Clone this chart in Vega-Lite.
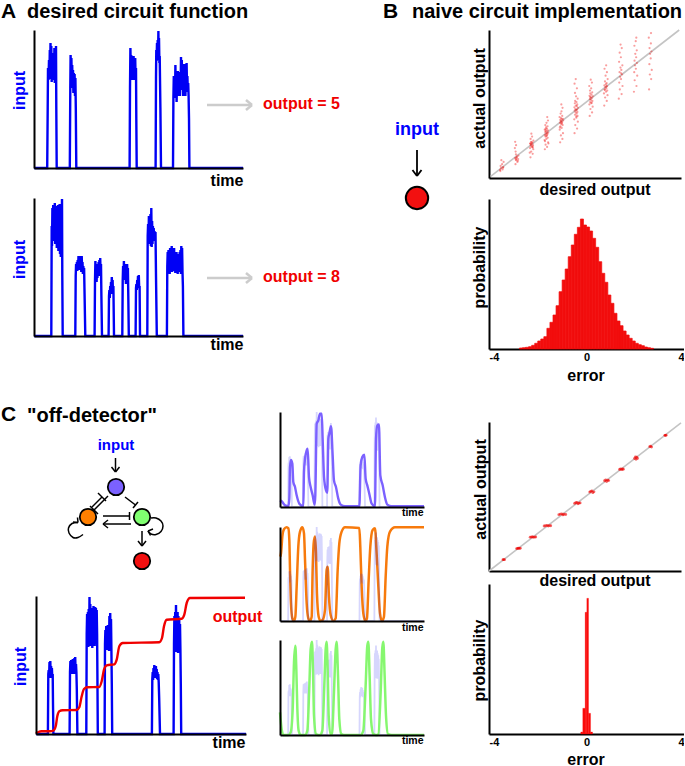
{"$schema":"https://vega.github.io/schema/vega-lite/v6.json","background":"white","padding":{"left":1,"top":1,"right":0,"bottom":0},
"config":{"view":{"stroke":null},"text":{"font":"Liberation Sans","fontWeight":"bold","align":"left","baseline":"middle"},"axis":{"domainColor":"#000","domainWidth":2,"ticks":false,"labels":false,"grid":false,"zindex":1,"titleFont":"Liberation Sans","titleFontWeight":"bold","titleFontSize":16,"titleBaseline":"middle","titleColor":"#000","labelFont":"Liberation Sans","labelFontWeight":"bold","labelFontSize":11,"labelColor":"#000"}},
"datasets":{
"inA1":[{"x":0,"y":0},{"x":13.2,"y":0},{"x":13.7,"y":60},{"x":14,"y":100},{"x":14.5,"y":88},{"x":15,"y":108},{"x":15.4,"y":90},{"x":15.8,"y":118},{"x":16.1,"y":92},{"x":16.5,"y":125},{"x":16.9,"y":89},{"x":17.3,"y":122},{"x":17.7,"y":86},{"x":18.1,"y":112},{"x":18.5,"y":90},{"x":18.9,"y":115},{"x":19.3,"y":88},{"x":19.7,"y":108},{"x":20,"y":92},{"x":20.4,"y":120},{"x":20.8,"y":85},{"x":21.2,"y":112},{"x":21.6,"y":95},{"x":22,"y":122},{"x":22.3,"y":60},{"x":22.7,"y":0},{"x":35.8,"y":0},{"x":36.3,"y":80},{"x":36.6,"y":113},{"x":37,"y":92},{"x":37.4,"y":110},{"x":37.8,"y":85},{"x":38.2,"y":103},{"x":38.6,"y":80},{"x":39,"y":98},{"x":39.4,"y":75},{"x":39.8,"y":95},{"x":40.2,"y":78},{"x":40.6,"y":94},{"x":41,"y":72},{"x":41.4,"y":90},{"x":41.8,"y":60},{"x":42.3,"y":0},{"x":95.6,"y":0},{"x":96,"y":80},{"x":96.4,"y":120},{"x":96.8,"y":95},{"x":97.2,"y":113},{"x":97.6,"y":92},{"x":98,"y":112},{"x":98.4,"y":88},{"x":98.8,"y":108},{"x":99.2,"y":90},{"x":99.6,"y":112},{"x":100,"y":88},{"x":100.4,"y":110},{"x":100.8,"y":92},{"x":101.2,"y":110},{"x":101.6,"y":88},{"x":102,"y":100},{"x":102.3,"y":50},{"x":102.7,"y":0},{"x":121.6,"y":0},{"x":122,"y":90},{"x":122.3,"y":118},{"x":122.6,"y":107},{"x":123,"y":125},{"x":123.3,"y":108},{"x":123.7,"y":128},{"x":124,"y":110},{"x":124.4,"y":137},{"x":124.7,"y":108},{"x":125,"y":130},{"x":125.4,"y":105},{"x":125.7,"y":112},{"x":126.4,"y":60},{"x":127,"y":0},{"x":139,"y":0},{"x":139.4,"y":70},{"x":139.8,"y":92},{"x":140.2,"y":80},{"x":140.6,"y":90},{"x":141,"y":70},{"x":141.4,"y":103},{"x":141.8,"y":72},{"x":142.2,"y":95},{"x":142.6,"y":66},{"x":143,"y":88},{"x":143.4,"y":72},{"x":143.8,"y":97},{"x":144.2,"y":76},{"x":144.6,"y":92},{"x":145,"y":74},{"x":145.4,"y":96},{"x":145.8,"y":72},{"x":146.2,"y":88},{"x":146.6,"y":78},{"x":147,"y":111},{"x":147.4,"y":80},{"x":147.8,"y":108},{"x":148.2,"y":82},{"x":148.6,"y":100},{"x":149,"y":72},{"x":149.4,"y":92},{"x":149.8,"y":76},{"x":150.2,"y":104},{"x":150.6,"y":80},{"x":151,"y":95},{"x":151.4,"y":72},{"x":151.8,"y":88},{"x":152.2,"y":78},{"x":152.6,"y":105},{"x":153,"y":80},{"x":153.4,"y":92},{"x":153.8,"y":76},{"x":154.2,"y":85},{"x":154.6,"y":72},{"x":155,"y":50},{"x":155.4,"y":0},{"x":209,"y":0}],
"inA2":[{"x":0,"y":0},{"x":17.3,"y":0},{"x":17.7,"y":110},{"x":18,"y":90},{"x":18.4,"y":128},{"x":18.8,"y":100},{"x":19.2,"y":131},{"x":19.6,"y":95},{"x":20,"y":120},{"x":20.4,"y":100},{"x":20.8,"y":133},{"x":21.2,"y":92},{"x":21.6,"y":125},{"x":22,"y":95},{"x":22.4,"y":130},{"x":22.8,"y":88},{"x":23.2,"y":128},{"x":23.6,"y":92},{"x":24,"y":131},{"x":24.4,"y":85},{"x":24.8,"y":128},{"x":25.2,"y":88},{"x":25.6,"y":132},{"x":26,"y":82},{"x":26.4,"y":128},{"x":26.8,"y":79},{"x":27.2,"y":130},{"x":27.6,"y":85},{"x":28,"y":137},{"x":28.3,"y":60},{"x":28.7,"y":0},{"x":41.3,"y":0},{"x":41.7,"y":60},{"x":42.1,"y":72},{"x":42.5,"y":66},{"x":42.9,"y":74},{"x":43.3,"y":65},{"x":43.7,"y":76},{"x":44.1,"y":68},{"x":44.5,"y":80},{"x":44.9,"y":66},{"x":45.3,"y":78},{"x":45.7,"y":70},{"x":46.1,"y":80},{"x":46.5,"y":68},{"x":46.9,"y":79},{"x":47.3,"y":64},{"x":47.7,"y":80},{"x":48.1,"y":68},{"x":48.5,"y":74},{"x":48.9,"y":62},{"x":49.3,"y":70},{"x":49.7,"y":64},{"x":50.1,"y":68},{"x":50.6,"y":40},{"x":51.3,"y":0},{"x":60.6,"y":0},{"x":61,"y":55},{"x":61.4,"y":75},{"x":61.8,"y":56},{"x":62.2,"y":72},{"x":62.6,"y":54},{"x":63,"y":70},{"x":63.4,"y":58},{"x":63.8,"y":68},{"x":64.2,"y":60},{"x":64.6,"y":74},{"x":65,"y":62},{"x":65.4,"y":76},{"x":65.8,"y":60},{"x":66.2,"y":78},{"x":66.6,"y":62},{"x":67,"y":72},{"x":67.4,"y":40},{"x":68,"y":0},{"x":74.6,"y":0},{"x":75,"y":40},{"x":75.4,"y":46},{"x":75.8,"y":38},{"x":76.2,"y":50},{"x":76.6,"y":42},{"x":77,"y":54},{"x":77.4,"y":44},{"x":77.8,"y":59},{"x":78.2,"y":46},{"x":78.6,"y":56},{"x":79,"y":42},{"x":79.4,"y":50},{"x":79.7,"y":25},{"x":80,"y":0},{"x":88.3,"y":0},{"x":88.7,"y":55},{"x":89.1,"y":70},{"x":89.5,"y":58},{"x":89.9,"y":75},{"x":90.3,"y":56},{"x":90.7,"y":72},{"x":91.1,"y":56},{"x":91.5,"y":70},{"x":91.9,"y":52},{"x":92.3,"y":66},{"x":92.7,"y":55},{"x":93.1,"y":72},{"x":93.5,"y":58},{"x":93.9,"y":68},{"x":94.3,"y":40},{"x":94.8,"y":0},{"x":101.6,"y":0},{"x":102,"y":48},{"x":102.4,"y":52},{"x":102.8,"y":46},{"x":103.2,"y":56},{"x":103.6,"y":50},{"x":104,"y":60},{"x":104.4,"y":50},{"x":104.8,"y":61},{"x":105.2,"y":48},{"x":105.6,"y":50},{"x":106,"y":0},{"x":113.3,"y":0},{"x":113.7,"y":100},{"x":114.1,"y":112},{"x":114.5,"y":95},{"x":114.9,"y":120},{"x":115.3,"y":98},{"x":115.7,"y":115},{"x":116.1,"y":92},{"x":116.5,"y":122},{"x":116.9,"y":90},{"x":117.3,"y":128},{"x":117.7,"y":89},{"x":118.1,"y":115},{"x":118.5,"y":92},{"x":118.9,"y":110},{"x":119.3,"y":96},{"x":119.7,"y":108},{"x":120.1,"y":97},{"x":120.5,"y":105},{"x":121,"y":95},{"x":121.5,"y":104},{"x":122,"y":60},{"x":122.8,"y":0},{"x":132.9,"y":0},{"x":133.3,"y":70},{"x":133.7,"y":84},{"x":134.1,"y":64},{"x":134.5,"y":86},{"x":134.9,"y":66},{"x":135.3,"y":84},{"x":135.7,"y":62},{"x":136.1,"y":88},{"x":136.5,"y":65},{"x":136.9,"y":85},{"x":137.3,"y":66},{"x":137.7,"y":90},{"x":138.1,"y":64},{"x":138.5,"y":86},{"x":138.9,"y":68},{"x":139.3,"y":86},{"x":139.7,"y":65},{"x":140.1,"y":88},{"x":140.5,"y":66},{"x":140.9,"y":84},{"x":141.3,"y":63},{"x":141.7,"y":82},{"x":142.1,"y":66},{"x":142.5,"y":84},{"x":142.9,"y":64},{"x":143.3,"y":80},{"x":143.7,"y":62},{"x":144.1,"y":82},{"x":144.5,"y":66},{"x":144.9,"y":80},{"x":145.3,"y":64},{"x":145.7,"y":84},{"x":146.1,"y":64},{"x":146.5,"y":86},{"x":146.9,"y":62},{"x":147.3,"y":90},{"x":147.7,"y":66},{"x":148.1,"y":88},{"x":148.5,"y":64},{"x":148.9,"y":50},{"x":149.4,"y":0},{"x":209,"y":0}],
"inC":[{"x":0,"y":0},{"x":11.9,"y":0},{"x":12.3,"y":60},{"x":12.7,"y":64},{"x":13.1,"y":57},{"x":13.5,"y":72},{"x":13.9,"y":56},{"x":14.3,"y":73},{"x":14.7,"y":57},{"x":15.1,"y":68},{"x":15.5,"y":58},{"x":15.9,"y":66},{"x":16.3,"y":56},{"x":16.7,"y":60},{"x":17,"y":30},{"x":17.4,"y":0},{"x":33.6,"y":0},{"x":34,"y":62},{"x":34.4,"y":73},{"x":34.8,"y":60},{"x":35.2,"y":74},{"x":35.6,"y":60},{"x":36,"y":74},{"x":36.4,"y":62},{"x":36.8,"y":75},{"x":37.2,"y":60},{"x":37.6,"y":74},{"x":38,"y":62},{"x":38.4,"y":76},{"x":38.8,"y":60},{"x":39.2,"y":77},{"x":39.6,"y":62},{"x":40,"y":70},{"x":40.4,"y":62},{"x":40.8,"y":45},{"x":41.4,"y":0},{"x":50.3,"y":0},{"x":50.7,"y":100},{"x":51.1,"y":120},{"x":51.5,"y":90},{"x":51.9,"y":122},{"x":52.3,"y":87},{"x":52.7,"y":125},{"x":53.1,"y":90},{"x":53.5,"y":137},{"x":53.9,"y":88},{"x":54.3,"y":130},{"x":54.7,"y":100},{"x":55.1,"y":118},{"x":55.5,"y":90},{"x":55.9,"y":125},{"x":56.3,"y":86},{"x":56.7,"y":126},{"x":57.1,"y":95},{"x":57.5,"y":128},{"x":57.9,"y":92},{"x":58.3,"y":125},{"x":58.7,"y":88},{"x":59.1,"y":127},{"x":59.5,"y":90},{"x":59.9,"y":126},{"x":60.3,"y":92},{"x":60.7,"y":124},{"x":61.1,"y":100},{"x":61.4,"y":60},{"x":61.8,"y":0},{"x":68.6,"y":0},{"x":69,"y":90},{"x":69.4,"y":104},{"x":69.8,"y":85},{"x":70.2,"y":108},{"x":70.6,"y":86},{"x":71,"y":108},{"x":71.4,"y":84},{"x":71.8,"y":109},{"x":72.2,"y":85},{"x":72.6,"y":104},{"x":73,"y":83},{"x":73.4,"y":118},{"x":73.8,"y":86},{"x":74.2,"y":121},{"x":74.6,"y":90},{"x":75,"y":115},{"x":75.4,"y":85},{"x":75.8,"y":50},{"x":76.2,"y":0},{"x":115.9,"y":0},{"x":116.3,"y":55},{"x":116.7,"y":62},{"x":117.1,"y":54},{"x":117.5,"y":66},{"x":117.9,"y":56},{"x":118.3,"y":69},{"x":118.7,"y":58},{"x":119.1,"y":68},{"x":119.5,"y":56},{"x":119.9,"y":68},{"x":120.3,"y":58},{"x":120.7,"y":65},{"x":121.1,"y":55},{"x":121.5,"y":62},{"x":121.9,"y":54},{"x":122.3,"y":60},{"x":122.7,"y":52},{"x":123.2,"y":35},{"x":124,"y":0},{"x":137.6,"y":0},{"x":138,"y":90},{"x":138.4,"y":118},{"x":138.8,"y":85},{"x":139.2,"y":122},{"x":139.6,"y":88},{"x":140,"y":129},{"x":140.4,"y":82},{"x":140.8,"y":120},{"x":141.2,"y":85},{"x":141.6,"y":122},{"x":142,"y":81},{"x":142.4,"y":118},{"x":142.8,"y":83},{"x":143.2,"y":115},{"x":143.6,"y":85},{"x":144,"y":110},{"x":144.4,"y":85},{"x":144.8,"y":50},{"x":145.2,"y":0},{"x":210,"y":0}],
"outC":[{"x":0,"y":0.3},{"x":2.3,"y":2},{"x":5.7,"y":2.7},{"x":14,"y":2.7},{"x":17.3,"y":3.3},{"x":19.7,"y":7.7},{"x":21.3,"y":17.7},{"x":23.3,"y":22.7},{"x":26.7,"y":23.7},{"x":40.7,"y":24},{"x":43.3,"y":26.7},{"x":45.7,"y":37.7},{"x":48,"y":45},{"x":51.3,"y":46.7},{"x":63.3,"y":47},{"x":65.7,"y":52.7},{"x":68,"y":64.3},{"x":70.7,"y":68.7},{"x":78.3,"y":69.7},{"x":80.7,"y":74.3},{"x":83.3,"y":87.7},{"x":86.7,"y":91},{"x":123.3,"y":91.7},{"x":126,"y":96},{"x":128,"y":107.7},{"x":130.7,"y":114.3},{"x":145.7,"y":115.3},{"x":148.3,"y":119.3},{"x":150.7,"y":131},{"x":154,"y":136},{"x":209,"y":136.3}],
"purple":[{"x":0,"y":9.6},{"x":2.4,"y":8.2},{"x":7.3,"y":2.4},{"x":12.2,"y":1},{"x":13.6,"y":12},{"x":14.6,"y":57.6},{"x":16,"y":68},{"x":18,"y":62.4},{"x":19.4,"y":36},{"x":21.9,"y":28.8},{"x":24.3,"y":16.8},{"x":28.2,"y":4.8},{"x":34,"y":1},{"x":35,"y":50.4},{"x":36.5,"y":69.6},{"x":38.9,"y":81.6},{"x":40.3,"y":84},{"x":42.3,"y":43.2},{"x":44.7,"y":28.8},{"x":47.6,"y":16.8},{"x":50.5,"y":3.4},{"x":51.5,"y":16.8},{"x":53.5,"y":120},{"x":55.9,"y":124.8},{"x":58.3,"y":134.4},{"x":60.8,"y":134.4},{"x":62.2,"y":98.4},{"x":64.2,"y":43.2},{"x":67.1,"y":24},{"x":69,"y":20.6},{"x":70.5,"y":98.4},{"x":71.9,"y":105.6},{"x":74.4,"y":116.6},{"x":76.8,"y":74.4},{"x":78.7,"y":38.4},{"x":81.6,"y":28.8},{"x":85,"y":12},{"x":88.5,"y":3.4},{"x":94.8,"y":1},{"x":115.7,"y":1},{"x":117.6,"y":60},{"x":120,"y":72},{"x":123,"y":75.4},{"x":124.9,"y":40.8},{"x":127.3,"y":31.2},{"x":130.2,"y":19.2},{"x":133.7,"y":4.8},{"x":138.5,"y":1},{"x":140,"y":98.4},{"x":141.9,"y":117.6},{"x":144.3,"y":119},{"x":146.3,"y":45.6},{"x":149.7,"y":31.2},{"x":153,"y":14.4},{"x":156.5,"y":3.4},{"x":162.8,"y":1},{"x":210,"y":1}],
"orange":[{"x":0.5,"y":93.8},{"x":1.5,"y":98.7},{"x":3.4,"y":123},{"x":5.8,"y":133.7},{"x":9.7,"y":136.6},{"x":12.2,"y":135},{"x":13.6,"y":118},{"x":14.6,"y":74.4},{"x":16,"y":25.8},{"x":18,"y":3.9},{"x":20.4,"y":0},{"x":22.4,"y":6.3},{"x":24.3,"y":50},{"x":26.7,"y":108.4},{"x":29.2,"y":130.2},{"x":32.6,"y":136.6},{"x":35,"y":127.8},{"x":36.5,"y":88.9},{"x":38.9,"y":25.8},{"x":41.3,"y":3.9},{"x":43.7,"y":0},{"x":46.2,"y":6.3},{"x":47.6,"y":74.4},{"x":49.1,"y":113.2},{"x":51,"y":123},{"x":52.5,"y":98.7},{"x":53.9,"y":40.3},{"x":56.4,"y":6.3},{"x":59.3,"y":0},{"x":62.2,"y":1.5},{"x":65.6,"y":16},{"x":68,"y":74.4},{"x":69.5,"y":79.2},{"x":71.4,"y":35.5},{"x":73.9,"y":8.7},{"x":77.8,"y":0},{"x":81.2,"y":3.9},{"x":84.1,"y":74.4},{"x":86.5,"y":113.2},{"x":89.9,"y":130.2},{"x":94.8,"y":136.6},{"x":115.7,"y":135.6},{"x":117.1,"y":108.4},{"x":119.1,"y":50},{"x":121.5,"y":11.2},{"x":124.4,"y":0},{"x":126.8,"y":3.9},{"x":129.3,"y":59.8},{"x":131.7,"y":108.4},{"x":135.1,"y":132.7},{"x":138.5,"y":135},{"x":140.9,"y":98.7},{"x":143.4,"y":50},{"x":145.8,"y":11.2},{"x":148.7,"y":0},{"x":151.6,"y":6.3},{"x":154.1,"y":64.6},{"x":156.5,"y":108.4},{"x":160.4,"y":130.2},{"x":167.7,"y":136.6},{"x":210,"y":136.6}],
"green":[{"x":0,"y":32.6},{"x":2.4,"y":8.6},{"x":4.9,"y":0},{"x":12.2,"y":0},{"x":15.6,"y":3.8},{"x":18.5,"y":37.4},{"x":20.4,"y":104.6},{"x":22.4,"y":128.6},{"x":23.8,"y":95},{"x":25.3,"y":37.4},{"x":27.2,"y":6.2},{"x":30.1,"y":0},{"x":36.5,"y":0},{"x":39.9,"y":6.2},{"x":42.8,"y":71},{"x":44.7,"y":123.8},{"x":46.7,"y":134.4},{"x":48.1,"y":95},{"x":49.6,"y":27.8},{"x":52.5,"y":1.4},{"x":55.9,"y":0},{"x":58.3,"y":0},{"x":61.7,"y":6.2},{"x":64.6,"y":71},{"x":66.6,"y":123.8},{"x":68,"y":134.4},{"x":69.5,"y":95},{"x":71,"y":27.8},{"x":73.9,"y":1.4},{"x":75.8,"y":1},{"x":78.7,"y":61.4},{"x":81.2,"y":123.8},{"x":82.6,"y":134.4},{"x":84.6,"y":85.4},{"x":86.5,"y":23},{"x":89.4,"y":1.4},{"x":93.3,"y":0},{"x":117.6,"y":0},{"x":121.5,"y":6.2},{"x":124.9,"y":71},{"x":127.3,"y":128.6},{"x":128.8,"y":134.4},{"x":130.7,"y":85.4},{"x":132.7,"y":23},{"x":136.1,"y":1.4},{"x":140,"y":0},{"x":143.4,"y":1},{"x":146.8,"y":61.4},{"x":149.2,"y":126.2},{"x":150.7,"y":134.4},{"x":152.6,"y":85.4},{"x":154.6,"y":27.8},{"x":157.5,"y":1.4},{"x":162.8,"y":0},{"x":210,"y":0}],
"scatterB":[{"x":0.9,"y":0.6},{"x":1.05,"y":0.75},{"x":0.95,"y":0.85},{"x":1.1,"y":0.95},{"x":0.92,"y":1.05},{"x":1.02,"y":1.2},{"x":1.12,"y":1.4},{"x":0.97,"y":1.55},{"x":1.08,"y":0.9},{"x":0.88,"y":0.7},
{"x":1.92,"y":1.2},{"x":2.05,"y":1.4},{"x":1.97,"y":1.55},{"x":2.1,"y":1.65},{"x":1.9,"y":1.75},{"x":2.02,"y":1.85},{"x":2.12,"y":1.95},{"x":1.95,"y":2.05},{"x":2.08,"y":1.5},{"x":1.98,"y":1.7},{"x":1.93,"y":2.3},{"x":1.88,"y":2.6},{"x":1.96,"y":2.85},{"x":1.9,"y":3.15},{"x":2,"y":1.8},{"x":1.94,"y":1.6},
{"x":2.93,"y":1.8},{"x":3.08,"y":2.1},{"x":2.98,"y":2.3},{"x":3.12,"y":2.5},{"x":2.9,"y":2.6},{"x":3.03,"y":2.7},{"x":2.95,"y":2.8},{"x":3.1,"y":2.85},{"x":3,"y":2.95},{"x":2.92,"y":3},{"x":3.06,"y":3.05},{"x":2.97,"y":3.15},{"x":3.13,"y":3.25},{"x":2.94,"y":3.4},{"x":3.04,"y":3.6},{"x":2.99,"y":3.85},{"x":2.88,"y":2.2},{"x":3.07,"y":2.75},{"x":2.96,"y":2.9},{"x":3.02,"y":3.1},{"x":3.09,"y":2.65},{"x":2.91,"y":3},
{"x":3.9,"y":2.5},{"x":4.05,"y":2.7},{"x":3.95,"y":2.9},{"x":4.12,"y":3.1},{"x":3.88,"y":3.3},{"x":4,"y":3.4},{"x":4.09,"y":3.5},{"x":3.94,"y":3.6},{"x":4.03,"y":3.7},{"x":3.9,"y":3.75},{"x":4.07,"y":3.8},{"x":3.97,"y":3.85},{"x":4.13,"y":3.95},{"x":3.92,"y":4},{"x":4.02,"y":4.05},{"x":3.96,"y":4.1},{"x":4.1,"y":4.15},{"x":3.89,"y":4.2},{"x":4.04,"y":4.3},{"x":3.98,"y":4.4},{"x":4.08,"y":4.5},{"x":3.93,"y":4.6},{"x":4.01,"y":4.8},{"x":4.11,"y":5},{"x":4.06,"y":5.3},{"x":3.91,"y":3.2},{"x":4,"y":3.65},{"x":4.05,"y":3.9},{"x":3.95,"y":4.25},{"x":4.14,"y":3},
{"x":4.93,"y":3.1},{"x":5.08,"y":3.4},{"x":4.98,"y":3.7},{"x":5.12,"y":3.9},{"x":4.9,"y":4.2},{"x":5.03,"y":4.35},{"x":4.95,"y":4.5},{"x":5.1,"y":4.6},{"x":5,"y":4.7},{"x":4.92,"y":4.8},{"x":5.06,"y":4.85},{"x":4.97,"y":4.9},{"x":5.13,"y":5},{"x":4.94,"y":5.05},{"x":5.04,"y":5.1},{"x":4.99,"y":5.2},{"x":4.89,"y":5.3},{"x":5.07,"y":5.4},{"x":4.96,"y":5.6},{"x":5.02,"y":5.8},{"x":5.09,"y":6.1},{"x":5.01,"y":6.4},{"x":4.91,"y":4.4},{"x":5.05,"y":4.75},{"x":5,"y":4.95},{"x":5.11,"y":5.15},
{"x":5.9,"y":3.9},{"x":6.07,"y":4.3},{"x":5.95,"y":4.6},{"x":6.12,"y":4.9},{"x":5.88,"y":5.1},{"x":6.02,"y":5.25},{"x":6.1,"y":5.4},{"x":5.93,"y":5.5},{"x":6.04,"y":5.6},{"x":5.97,"y":5.7},{"x":6.09,"y":5.75},{"x":5.91,"y":5.85},{"x":6.01,"y":5.9},{"x":5.96,"y":6},{"x":6.13,"y":6.1},{"x":5.89,"y":6.15},{"x":6.05,"y":6.25},{"x":5.98,"y":6.3},{"x":6.08,"y":6.4},{"x":5.92,"y":6.5},{"x":6.03,"y":6.6},{"x":5.94,"y":6.7},{"x":6.11,"y":6.9},{"x":6,"y":7.1},{"x":5.93,"y":7.4},{"x":6.06,"y":7.8},{"x":5.9,"y":8.2},{"x":5.98,"y":8.6},{"x":6.02,"y":5.35},{"x":6.06,"y":5.95},
{"x":6.92,"y":5.4},{"x":7.08,"y":5.7},{"x":6.97,"y":6},{"x":7.12,"y":6.2},{"x":6.9,"y":6.4},{"x":7.03,"y":6.5},{"x":6.95,"y":6.6},{"x":7.1,"y":6.7},{"x":7,"y":6.8},{"x":6.93,"y":6.85},{"x":7.06,"y":6.95},{"x":6.98,"y":7},{"x":7.13,"y":7.1},{"x":6.91,"y":7.15},{"x":7.04,"y":7.25},{"x":6.96,"y":7.35},{"x":7.09,"y":7.45},{"x":6.94,"y":7.6},{"x":7.02,"y":7.8},{"x":6.89,"y":8},{"x":7.07,"y":8.3},{"x":6.99,"y":8.55},{"x":7.05,"y":6.55},{"x":6.97,"y":7.05},
{"x":7.9,"y":6.3},{"x":8.07,"y":6.7},{"x":7.96,"y":7},{"x":8.12,"y":7.2},{"x":7.88,"y":7.35},{"x":8.02,"y":7.5},{"x":8.1,"y":7.6},{"x":7.93,"y":7.7},{"x":8.04,"y":7.8},{"x":7.97,"y":7.9},{"x":8.09,"y":8},{"x":7.91,"y":8.05},{"x":8.01,"y":8.15},{"x":8.06,"y":8.25},{"x":7.95,"y":8.4},{"x":8.13,"y":8.6},{"x":7.99,"y":8.9},{"x":8.08,"y":9.2},{"x":7.92,"y":9.5},{"x":8.03,"y":9.8},{"x":7.94,"y":7.65},{"x":8.05,"y":7.95},
{"x":8.88,"y":6.9},{"x":9.07,"y":7.3},{"x":8.95,"y":7.7},{"x":9.13,"y":8},{"x":8.91,"y":8.3},{"x":9.03,"y":8.6},{"x":8.97,"y":8.8},{"x":9.1,"y":9},{"x":8.93,"y":9.2},{"x":9.05,"y":9.4},{"x":8.99,"y":9.6},{"x":9.12,"y":9.8},{"x":8.9,"y":10.1},{"x":9.02,"y":10.5},{"x":8.94,"y":10.9},{"x":9.08,"y":11.3},{"x":9,"y":11.6},{"x":9.04,"y":9.1},
{"x":9.9,"y":7.5},{"x":10.07,"y":8},{"x":9.95,"y":8.5},{"x":10.12,"y":8.9},{"x":9.92,"y":9.2},{"x":10.03,"y":9.5},{"x":9.97,"y":9.8},{"x":10.1,"y":10},{"x":9.94,"y":10.2},{"x":10.05,"y":10.5},{"x":9.99,"y":10.8},{"x":10.09,"y":11.1},{"x":9.93,"y":11.5},{"x":10.02,"y":11.9},{"x":10.06,"y":12.2},
{"x":10.92,"y":7.7},{"x":11.06,"y":8.6},{"x":10.97,"y":9},{"x":11.1,"y":9.4},{"x":10.94,"y":9.9},{"x":11.03,"y":10.4},{"x":10.99,"y":10.8},{"x":11.08,"y":11},{"x":10.95,"y":11.3},{"x":11.04,"y":11.7},{"x":10.9,"y":12.2},{"x":11.05,"y":12.6}],
"scatterC":[{"x":0.95,"y":1},{"x":1,"y":1.01},{"x":1.06,"y":1},{"x":1.88,"y":1.98},{"x":1.95,"y":2},{"x":2,"y":2.02},{"x":2.06,"y":2},{"x":2.13,"y":2.01},{"x":2.8,"y":2.99},{"x":2.88,"y":3},{"x":2.96,"y":3.03},{"x":3.02,"y":2.98},{"x":3.1,"y":3},{"x":3.18,"y":3.01},{"x":3.75,"y":3.98},{"x":3.85,"y":4},{"x":3.95,"y":4.04},{"x":4.03,"y":3.97},{"x":4.1,"y":4.02},{"x":4.2,"y":4},{"x":4.75,"y":4.98},{"x":4.85,"y":5.03},{"x":4.95,"y":5.05},{"x":5.03,"y":4.96},{"x":5.1,"y":5.02},{"x":5.22,"y":5},{"x":5.82,"y":5.98},{"x":5.9,"y":6.04},{"x":5.98,"y":6.07},{"x":6.05,"y":5.95},{"x":6.12,"y":6},{"x":6.2,"y":6.02},{"x":6.85,"y":6.98},{"x":6.92,"y":7.05},{"x":7,"y":7.08},{"x":7.06,"y":6.93},{"x":7.14,"y":7},{"x":7.86,"y":7.98},{"x":7.94,"y":8.06},{"x":8,"y":7.92},{"x":8.08,"y":8.04},{"x":8.14,"y":8},{"x":8.88,"y":8.98},{"x":8.95,"y":9.04},{"x":9.02,"y":8.96},{"x":9.08,"y":9.02},{"x":9.14,"y":9},{"x":9.9,"y":9.96},{"x":9.96,"y":10.1},{"x":10,"y":9.88},{"x":10.05,"y":10.06},{"x":10.1,"y":9.96},{"x":10.93,"y":11},{"x":11,"y":11.04},{"x":11.06,"y":10.96},{"x":11.96,"y":12},{"x":12,"y":12},{"x":12.05,"y":12.01}],
"histB":[{"x":-2.75,"x2":-2.625,"y":1},{"x":-2.625,"x2":-2.5,"y":1.3},{"x":-2.5,"x2":-2.375,"y":1.7},{"x":-2.375,"x2":-2.25,"y":2.3},{"x":-2.25,"x2":-2.125,"y":3.7},{"x":-2.125,"x2":-2,"y":5.7},{"x":-2,"x2":-1.875,"y":8},{"x":-1.875,"x2":-1.75,"y":10},{"x":-1.75,"x2":-1.625,"y":12.3},{"x":-1.625,"x2":-1.5,"y":20.7},{"x":-1.5,"x2":-1.375,"y":26.7},{"x":-1.375,"x2":-1.25,"y":34},{"x":-1.25,"x2":-1.125,"y":43.3},{"x":-1.125,"x2":-1,"y":57.3},{"x":-1,"x2":-0.875,"y":69},{"x":-0.875,"x2":-0.75,"y":80},{"x":-0.75,"x2":-0.625,"y":92.3},{"x":-0.625,"x2":-0.5,"y":104},{"x":-0.5,"x2":-0.375,"y":114.7},{"x":-0.375,"x2":-0.25,"y":121.7},{"x":-0.25,"x2":-0.125,"y":130},{"x":-0.125,"x2":0,"y":124},{"x":0,"x2":0.125,"y":122},{"x":0.125,"x2":0.25,"y":118},{"x":0.25,"x2":0.375,"y":110.7},{"x":0.375,"x2":0.5,"y":101.7},{"x":0.5,"x2":0.625,"y":87.3},{"x":0.625,"x2":0.75,"y":75.7},{"x":0.75,"x2":0.875,"y":66.7},{"x":0.875,"x2":1,"y":54},{"x":1,"x2":1.125,"y":45.7},{"x":1.125,"x2":1.25,"y":35.7},{"x":1.25,"x2":1.375,"y":28},{"x":1.375,"x2":1.5,"y":23.3},{"x":1.5,"x2":1.625,"y":18},{"x":1.625,"x2":1.75,"y":14},{"x":1.75,"x2":1.875,"y":10.7},{"x":1.875,"x2":2,"y":8},{"x":2,"x2":2.125,"y":5.7},{"x":2.125,"x2":2.25,"y":4.3},{"x":2.25,"x2":2.375,"y":3.3},{"x":2.375,"x2":2.5,"y":2},{"x":2.5,"x2":2.625,"y":1.3},{"x":2.625,"x2":2.75,"y":0.7}],
"histC":[{"x":-0.234,"x2":-0.152,"y":2},{"x":-0.152,"x2":-0.055,"y":25.7},{"x":-0.055,"x2":0.014,"y":121.7},{"x":0.014,"x2":0.083,"y":135.7},{"x":0.083,"x2":0.166,"y":20.7},{"x":0.166,"x2":0.248,"y":2}]
},
"concat":[
{"width":246,"height":148,"encoding":{"x":{"field":"x","type":"quantitative","scale":{"domain":[0,209],"range":[0,209],"nice":false,"zero":false},"axis":{"title":"time","offset":-10,"zindex":2,"titleAlign":"right","titleX":209,"titleY":12}},"y":{"field":"y","type":"quantitative","scale":{"domain":[0,138],"range":[138,0],"nice":false,"zero":false},"axis":{"title":"input","zindex":2,"titleColor":"#0000ff","titleX":-15,"titleY":60}}},
"layer":[{"data":{"name":"inA1"},"mark":{"type":"line","color":"#0000f5","strokeWidth":2.4}},
{"data":{"values":[{"x":173,"y":63,"x2":218,"y2":63},{"x":212,"y":68,"x2":218,"y2":63},{"x":212,"y":58,"x2":218,"y2":63}]},"mark":{"type":"rule","color":"#cccccc","strokeWidth":2.5},"encoding":{"x2":{"field":"x2"},"y2":{"field":"y2"}}},
{"data":{"values":[{"x":229,"y":64,"label":"output = 5"}]},"mark":{"type":"text","fontSize":16,"color":"#f00000"},"encoding":{"text":{"field":"label"}}},
{"data":{"values":[{"x":-33,"y":156,"label":"A"}]},"mark":{"type":"text","fontSize":21,"color":"#000"},"encoding":{"text":{"field":"label"}}},
{"data":{"values":[{"x":-7,"y":156,"label":"desired circuit function"}]},"mark":{"type":"text","fontSize":20,"color":"#000"},"encoding":{"text":{"field":"label"}}}]},
{"width":209,"height":148,"encoding":{"x":{"field":"x","type":"quantitative","scale":{"domain":[280,489],"range":[0,209],"nice":false,"zero":false},"axis":null},"y":{"field":"y","type":"quantitative","scale":{"domain":[30,178],"range":[0,148],"nice":false,"zero":false},"axis":null}},
"layer":[{"data":{"values":[{"x":383,"y":12,"label":"B"}]},"mark":{"type":"text","fontSize":21,"color":"#000"},"encoding":{"text":{"field":"label"}}},
{"data":{"values":[{"x":412,"y":12,"label":"naive circuit implementation"}]},"mark":{"type":"text","fontSize":20,"color":"#000"},"encoding":{"text":{"field":"label"}}},
{"data":{"values":[{"x":417,"y":130,"label":"input"}]},"mark":{"type":"text","fontSize":18,"color":"#0000ff","align":"center"},"encoding":{"text":{"field":"label"}}},
{"data":{"values":[{"x":417,"y":150,"x2":417,"y2":176},{"x":412.5,"y":170,"x2":417,"y2":176},{"x":421.5,"y":170,"x2":417,"y2":176}]},"mark":{"type":"rule","color":"#000","strokeWidth":1.8},"encoding":{"x2":{"field":"x2"},"y2":{"field":"y2"}}},
{"data":{"values":[{"x":417,"y":198}]},"mark":{"type":"point","shape":"circle","filled":true,"size":500,"color":"#f21010","stroke":"#000","strokeWidth":2,"opacity":1}}]},
{"width":192,"height":148,"encoding":{"x":{"field":"x","type":"quantitative","scale":{"domain":[0.137,13.07],"range":[0,192],"nice":false,"zero":false},"axis":{"title":"desired output","titleX":105.5,"titleY":11}},"y":{"field":"y","type":"quantitative","scale":{"domain":[0,12.87],"range":[148,0],"nice":false,"zero":false},"axis":{"title":"actual output","titleX":-9.5,"titleY":68}}},
"layer":[{"data":{"values":[{"x":0.25,"y":0.15,"x2":12.95,"y2":12.87}]},"mark":{"type":"rule","color":"#c4c4c4","strokeWidth":1.6},"encoding":{"x2":{"field":"x2"},"y2":{"field":"y2"}}},
{"data":{"name":"scatterB"},"mark":{"type":"point","filled":true,"size":5,"color":"#f00000","opacity":0.38}}]},

{"width":246,"height":171,"encoding":{"x":{"field":"x","type":"quantitative","scale":{"domain":[0,209],"range":[0,209],"nice":false,"zero":false},"axis":{"title":"time","offset":-13,"zindex":2,"titleAlign":"right","titleX":209,"titleY":8}},"y":{"field":"y","type":"quantitative","scale":{"domain":[0,138],"range":[158,20],"nice":false,"zero":false},"axis":{"title":"input","zindex":2,"titleColor":"#0000ff","titleX":-15,"titleY":81}}},
"layer":[{"data":{"name":"inA2"},"mark":{"type":"line","color":"#0000f5","strokeWidth":2.4}},
{"data":{"values":[{"x":173,"y":58,"x2":218,"y2":58},{"x":212,"y":63,"x2":218,"y2":58},{"x":212,"y":53,"x2":218,"y2":58}]},"mark":{"type":"rule","color":"#cccccc","strokeWidth":2.5},"encoding":{"x2":{"field":"x2"},"y2":{"field":"y2"}}},
{"data":{"values":[{"x":229,"y":59,"label":"output = 8"}]},"mark":{"type":"text","fontSize":16,"color":"#f00000"},"encoding":{"text":{"field":"label"}}}]},
{"width":209,"height":171,"encoding":{"x":{"field":"x","type":"quantitative","scale":{"domain":[0,210],"range":[0,144],"nice":false,"zero":false},"axis":{"title":"time","offset":158,"zindex":2,"titleFontSize":10.5,"titleAlign":"right","titleX":143,"titleY":5}},"y":{"field":"y","type":"quantitative","scale":{"domain":[0,137],"range":[329,234],"nice":false,"zero":false},"axis":{"title":null,"zindex":2}}},
"layer":[{"data":{"name":"inC"},"mark":{"type":"line","color":"#0000f5","strokeWidth":1.8,"opacity":0.16}},
{"data":{"name":"purple"},"mark":{"type":"line","color":"#7b61ff","strokeWidth":2.4,"interpolate":"monotone"}}]},
{"width":192,"height":171,"data":{"name":"histB"},"mark":{"type":"rect","color":"#f20d0d","stroke":"#f20d0d","strokeWidth":0.7},"encoding":{"x":{"field":"x","type":"quantitative","scale":{"domain":[-4,4],"range":[0,195],"nice":false,"zero":false},"axis":{"title":"error","labels":true,"values":[-4,0,4],"labelExpr":"''+datum.value","labelPadding":2,"labelAngle":0,"titleX":96.5,"titleY":26}},"y":{"field":"y","type":"quantitative","scale":{"domain":[0,150],"range":[171,21],"nice":false,"zero":false},"axis":{"title":"probability","titleX":-9.5,"titleY":89}},"x2":{"field":"x2"},"y2":{"datum":0}}},

{"width":246,"height":222,"encoding":{"x":{"field":"x","type":"quantitative","scale":{"domain":[34,280],"range":[0,246],"nice":false,"zero":false},"axis":null},"y":{"field":"y","type":"quantitative","scale":{"domain":[349,571],"range":[0,222],"nice":false,"zero":false},"axis":null}},
"layer":[{"data":{"values":[{"x":1,"y":415,"label":"C"}]},"mark":{"type":"text","fontSize":21,"color":"#000"},"encoding":{"text":{"field":"label"}}},
{"data":{"values":[{"x":27,"y":416,"label":"\"off-detector\""}]},"mark":{"type":"text","fontSize":20,"color":"#000"},"encoding":{"text":{"field":"label"}}},
{"data":{"values":[{"x":116,"y":445,"label":"input"}]},"mark":{"type":"text","fontSize":15,"color":"#0000ff","align":"center"},"encoding":{"text":{"field":"label"}}},
{"data":{"values":[{"x":115.5,"y":458,"x2":115.5,"y2":472},{"x":111.5,"y":467,"x2":115.5,"y2":472},{"x":119.5,"y":467,"x2":115.5,"y2":472},{"x":92,"y":507,"x2":102,"y2":497},{"x":98,"y":493,"x2":106,"y2":501},{"x":108,"y":496,"x2":94,"y2":510},{"x":90,"y":506,"x2":98,"y2":514},{"x":125,"y":497,"x2":135.5,"y2":505},{"x":133,"y":508,"x2":138,"y2":502},{"x":103,"y":516,"x2":129.5,"y2":516},{"x":129.5,"y":512,"x2":129.5,"y2":520},{"x":131,"y":524,"x2":103,"y2":524},{"x":108,"y":520,"x2":103,"y2":524},{"x":108,"y":528,"x2":103,"y2":524},{"x":142,"y":531,"x2":142,"y2":546},{"x":138,"y":541,"x2":142,"y2":546},{"x":146,"y":541,"x2":142,"y2":546},{"x":77.5,"y":517.5,"x2":78,"y2":522.5},{"x":73,"y":522,"x2":78,"y2":522.5},{"x":148,"y":531,"x2":153,"y2":529},{"x":148,"y":531,"x2":150.5,"y2":535.5}]},"mark":{"type":"rule","color":"#000","strokeWidth":1.5},"encoding":{"x2":{"field":"x2"},"y2":{"field":"y2"}}},
{"data":{"values":[{"n":"a","i":1,"x":78,"y":522.5},{"n":"a","i":2,"x":72,"y":523.5},{"n":"a","i":3,"x":68.5,"y":528},{"n":"a","i":4,"x":69,"y":533},{"n":"a","i":5,"x":73,"y":537.5},{"n":"a","i":6,"x":78,"y":537.5},{"n":"a","i":7,"x":83,"y":534.5},{"n":"b","i":1,"x":151,"y":518},{"n":"b","i":2,"x":156,"y":518},{"n":"b","i":3,"x":161,"y":521},{"n":"b","i":4,"x":163,"y":526},{"n":"b","i":5,"x":161,"y":531.5},{"n":"b","i":6,"x":156,"y":534.5},{"n":"b","i":7,"x":151,"y":534},{"n":"b","i":8,"x":148,"y":531}]},"mark":{"type":"line","color":"#000","strokeWidth":1.5,"interpolate":"cardinal"},"encoding":{"detail":{"field":"n"},"order":{"field":"i"}}},
{"data":{"values":[{"x":116,"y":487,"node":"top"},{"x":88,"y":517,"node":"left"},{"x":142,"y":517,"node":"right"},{"x":142,"y":561,"node":"out"}]},"mark":{"type":"point","shape":"circle","filled":true,"size":270,"stroke":"#000","strokeWidth":1.8,"opacity":1},"encoding":{"color":{"field":"node","type":"nominal","legend":null,"scale":{"domain":["top","left","right","out"],"range":["#7b61ff","#ff7f00","#80ff70","#f21010"]}}}}]},
{"width":209,"height":222,"encoding":{"x":{"field":"x","type":"quantitative","scale":{"domain":[0,210],"range":[0,144],"nice":false,"zero":false},"axis":{"title":"time","offset":50,"zindex":2,"titleFontSize":10.5,"titleAlign":"right","titleX":143,"titleY":6}},"y":{"field":"y","type":"quantitative","scale":{"domain":[0,137],"range":[272,178],"nice":false,"zero":false},"axis":{"title":null,"zindex":2}}},
"layer":[{"data":{"name":"orange"},"mark":{"type":"line","color":"#f77a0c","strokeWidth":2.5,"interpolate":"monotone"}},
{"data":{"name":"inC"},"mark":{"type":"line","color":"#0000f5","strokeWidth":1.8,"opacity":0.16}}]},
{"width":192,"height":222,"encoding":{"x":{"field":"x","type":"quantitative","scale":{"domain":[0,13.06],"range":[0,192],"nice":false,"zero":false},"axis":{"title":"desired output","titleX":105.5,"titleY":9}},"y":{"field":"y","type":"quantitative","scale":{"domain":[0,13.18],"range":[222,73],"nice":false,"zero":false},"axis":{"title":"actual output","titleX":-9,"titleY":140}}},
"layer":[{"data":{"values":[{"x":0,"y":0,"x2":13.06,"y2":13.1}]},"mark":{"type":"rule","color":"#c4c4c4","strokeWidth":1.6},"encoding":{"x2":{"field":"x2"},"y2":{"field":"y2"}}},
{"data":{"name":"scatterC"},"mark":{"type":"point","filled":true,"size":8,"color":"#f00000","opacity":0.6}}]},

{"width":246,"height":164,"encoding":{"x":{"field":"x","type":"quantitative","scale":{"domain":[0,210],"range":[2,212],"nice":false,"zero":false},"axis":{"title":"time","offset":-1,"zindex":2,"titleAlign":"right","titleX":211,"titleY":8}},"y":{"field":"y","type":"quantitative","scale":{"domain":[0,138],"range":[163,25],"nice":false,"zero":false},"axis":{"title":"input","offset":-2,"zindex":2,"titleColor":"#0000ff","titleX":-15.3,"titleY":95}}},
"layer":[{"data":{"name":"inC"},"mark":{"type":"line","color":"#0000f5","strokeWidth":2.4}},
{"data":{"name":"outC"},"mark":{"type":"line","color":"#f00000","strokeWidth":2.4,"interpolate":"monotone"}},
{"data":{"values":[{"x":176.7,"y":117,"label":"output"}]},"mark":{"type":"text","fontSize":16,"color":"#f00000"},"encoding":{"text":{"field":"label"}}}]},
{"width":209,"height":164,"encoding":{"x":{"field":"x","type":"quantitative","scale":{"domain":[0,210],"range":[0,144],"nice":false,"zero":false},"axis":{"title":"time","zindex":2,"titleFontSize":10.5,"titleAlign":"right","titleX":143,"titleY":5}},"y":{"field":"y","type":"quantitative","scale":{"domain":[0,137],"range":[164,69],"nice":false,"zero":false},"axis":{"title":null,"zindex":2}}},
"layer":[{"data":{"name":"inC"},"mark":{"type":"line","color":"#0000f5","strokeWidth":1.8,"opacity":0.16}},
{"data":{"name":"green"},"mark":{"type":"line","color":"#86f76f","strokeWidth":2.5,"interpolate":"monotone"}}]},
{"width":192,"height":164,"data":{"name":"histC"},"mark":{"type":"rect","color":"#fa0a0a","stroke":"#fa0a0a","strokeWidth":0.3},"encoding":{"x":{"field":"x","type":"quantitative","scale":{"domain":[-4,4],"range":[0,195],"nice":false,"zero":false},"axis":{"title":"error","offset":-1,"labels":true,"values":[-4,0,4],"labelExpr":"''+datum.value","labelPadding":2,"labelAngle":0,"titleX":96.5,"titleY":25}},"y":{"field":"y","type":"quantitative","scale":{"domain":[0,150],"range":[163,13],"nice":false,"zero":false},"axis":{"title":"probability","titleX":-9.5,"titleY":89}},"x2":{"field":"x2"},"y2":{"datum":0}}}
],"columns":3,"spacing":0,"bounds":"flush","align":"none"}
